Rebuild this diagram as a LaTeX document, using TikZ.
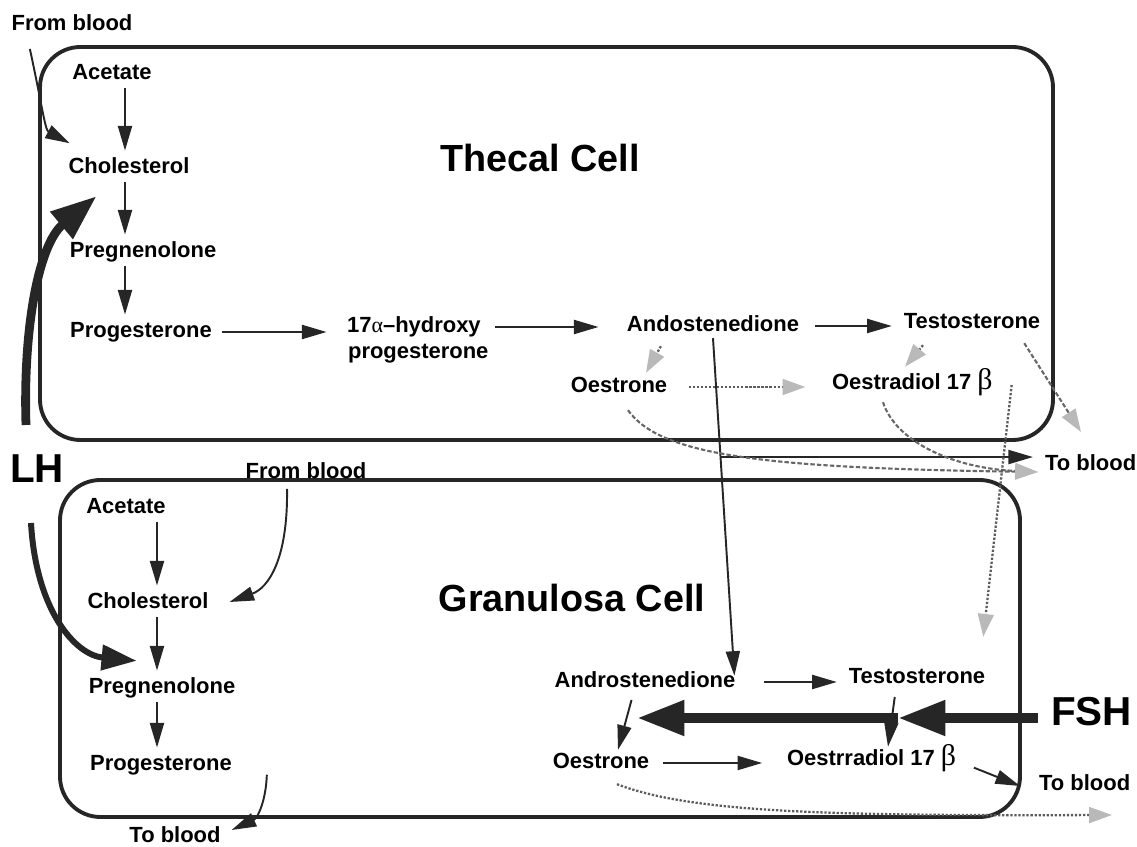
\documentclass[tikz,border=0pt]{standalone}
\usepackage{fontspec}
\setmainfont{Liberation Sans}
\newfontfamily\greekserif{Liberation Serif}
\usetikzlibrary{arrows.meta,calc}

\colorlet{ink}{black!85}
\newcommand\chemfont{\fontsize{12.5}{14}\selectfont\bfseries}
\newcommand\titlefont{\fontsize{21.5}{24}\selectfont\bfseries}
\newcommand\hormfont{\fontsize{23}{26}\selectfont\bfseries}
\newcommand\bigbeta{{\greekserif\mdseries\fontsize{17}{17}\selectfont β}}

\begin{document}
\begin{tikzpicture}[x=0.02cm,y=-0.02cm,
  chem/.style={font=\chemfont,inner sep=1pt,text height=9pt,text depth=2.5pt},
  celltitle/.style={font=\titlefont,inner sep=1pt},
  hormone/.style={font=\hormfont,inner sep=1pt},
  cellwall/.style={draw=ink,line width=2.2pt,rounded corners=23pt},
  flow/.style={draw=ink,line width=1.1pt,-{Triangle[length=14pt,width=8pt]},shorten <=1pt,shorten >=3pt},
  diffuse/.style={draw=ink!75,line width=1.3pt,densely dotted,-{Triangle[length=13pt,width=9pt,color=gray!55]}},
  leak/.style={draw=ink!70,line width=1.2pt,dash pattern=on 2.5pt off 1.2pt,-{Triangle[length=13pt,width=9pt,color=gray!55]}},
  lhflow/.style={draw=ink,line width=5pt,-{Triangle[length=26pt,width=19pt]}},
  lhthin/.style={draw=ink,line width=3.4pt,-{Triangle[length=20pt,width=14pt]}},
  fshflow/.style={draw=ink,line width=5.7pt,-{Triangle[length=27pt,width=19pt]}}]
  \useasboundingbox (0,0) rectangle (1137,847);

  % thecal cell
  \draw[cellwall] (40,47) rectangle (1053,440);
  \node[celltitle] (thTitle) at (540,158) {Thecal Cell};
  \node[chem] (thFrom) at (72,25) {From blood};
  \node[chem] (thAce) at (112,74) {Acetate};
  \node[chem] (thChol) at (129,168) {Cholesterol};
  \node[chem] (thPreg) at (143,252) {Pregnenolone};
  \node[chem] (thProg) at (141,332) {Progesterone};
  \node[chem,anchor=west] (thHyd) at (345,327) {17{\greekserif\mdseries α}–hydroxy};
  \node[chem,anchor=west] (thHydP) at (346,353) {progesterone};
  \node[chem] (thAnd) at (713,326) {Andostenedione};
  \node[chem] (thTest) at (972,323) {Testosterone};
  \node[chem] (thOes) at (619,387) {Oestrone};
  \node[chem,anchor=west] (thOest) at (830,384) {Oestradiol 17 \bigbeta};
  \node[chem,anchor=west] (thBlood) at (1043,465) {To blood};
  \node[hormone] (lh) at (37,469) {LH};

  % granulosa cell
  \draw[cellwall] (60,480) rectangle (1020,817);
  \node[celltitle] (grTitle) at (572,598) {Granulosa Cell};
  \node[chem] (grFrom) at (306,473) {From blood};
  \node[chem] (grAce) at (126,508) {Acetate};
  \node[chem] (grChol) at (148,603) {Cholesterol};
  \node[chem] (grPreg) at (162,688) {Pregnenolone};
  \node[chem] (grProg) at (161,765) {Progesterone};
  \node[chem] (grBloodOut) at (175,837) {To blood};
  \node[chem] (grAndro) at (645,682) {Androstenedione};
  \node[chem] (grTest) at (917,678) {Testosterone};
  \node[chem] (grOes) at (601,763) {Oestrone};
  \node[chem,anchor=west] (grOest) at (785,760) {Oestrradiol 17 \bigbeta};
  \node[chem,anchor=west] (grBlood) at (1037,785) {To blood};
  \node[hormone,anchor=east] (fsh) at (1134,712) {FSH};

  \coordinate (thcol) at (125,0);
  \coordinate (grcol) at (157,0);
  \coordinate (thTestOut) at (1081,432);
  \coordinate (grOut) at (1112,815);
  \coordinate (fshMid) at (898,718);
  \coordinate (fshTip) at (637,718);

  % thecal pathway
  \draw[flow] ($(thFrom.south west)+(20,10)$) .. controls (42,105) and (45,130) .. ($(thChol.north west)+(8,-10)$);
  \draw[lhflow] ($(lh.north)+(-11,-28)$) .. controls (23,330) and (38,245) .. ($(thChol.south west)+(30,16)$);
  \draw[flow] (thAce.south -| thcol) -- (thChol.north -| thcol);
  \draw[flow] (thChol.south -| thcol) -- (thPreg.north -| thcol);
  \draw[flow] (thPreg.south -| thcol) -- (thProg.north -| thcol);
  \draw[flow,shorten <=4.5pt,shorten >=10.5pt] (thProg.east) -- (thProg.east -| thHyd.west);
  \draw[flow,shorten <=7pt,shorten >=15pt] (thHyd.east) -- (thHyd.east -| thAnd.west);
  \draw[flow,shorten <=7.7pt,shorten >=5.7pt] (thAnd.east) -- (thAnd.east -| thTest.west);
  \draw[diffuse] ($(thAnd.south west)+(36,8)$) -- ($(thOes.north)+(27,-2)$);
  \draw[diffuse] ($(thTest.south)+(-49,10)$) -- ($(thOest.north west)+(75,-5)$);
  \draw[diffuse,shorten <=11pt,shorten >=14pt] (thOes.east) -- (thOes.east -| thOest.west);
  \draw[leak] ($(thTest.south east)+(-18,8)$) -- (thTestOut);
  \draw[flow,shorten <=0pt,shorten >=0pt] (thAnd.south) -- ($(grAndro.north east)+(-3,6)$) coordinate[pos=0.352] (branch);
  \draw[flow,shorten <=0pt,shorten >=5.7pt] (branch) -- (branch -| thBlood.west);
  \draw[leak] ($(thOes.south)+(9,11)$) .. controls (660,455) and (760,468) .. ($(thBlood.west)+(-5,7)$);
  \draw[leak] ($(thOest.south west)+(53,6)$) .. controls (895,440) and (950,468) .. ($(thBlood.west)+(-5,7)$);
  \draw[diffuse] ($(thOest.east)+(17,1)$) -- ($(grTest.north east)+(-4,-29)$);

  % granulosa pathway
  \draw[flow,shorten >=0pt] ($(grFrom.south)+(-19,2)$) .. controls (288,560) and (268,588) .. ($(grChol.east)+(19,-1)$);
  \draw[lhthin] ($(lh.south)+(-6,38)$) .. controls (36,610) and (75,655) .. ($(grPreg.north west)+(50,-15)$);
  \draw[flow] (grAce.south -| grcol) -- (grChol.north -| grcol);
  \draw[flow] (grChol.south -| grcol) -- (grPreg.north -| grcol);
  \draw[flow] (grPreg.south -| grcol) -- (grProg.north -| grcol);
  \draw[flow,shorten >=0pt] ($(grProg.east)+(33,8)$) .. controls (266,800) and (258,818) .. ($(grBloodOut.east)+(9,-7)$);
  \draw[flow,shorten <=15pt,shorten >=5.7pt] (grAndro.east) -- (grAndro.east -| grTest.west);
  \draw[flow,shorten >=0pt] ($(grAndro.south)+(-13,4)$) -- ($(grOes.north)+(17,-1)$);
  \draw[flow,shorten >=0pt] ($(grTest.south)+(-22,5)$) -- ($(grOest.north west)+(103,-1)$);
  \draw[flow,shorten <=6.5pt,shorten >=13pt] (grOes.east) -- (grOes.east -| grOest.west);
  \draw[flow,shorten >=0pt] ($(grOest.east)+(14,7)$) -- ($(grBlood.west)+(-17,1)$);
  \draw[diffuse] ($(grOes.south)+(16,9)$) .. controls (690,812) and (820,816) .. (grOut);
  \draw[fshflow] ($(fsh.west)+(-11,6)$) -- (fshMid);
  \draw[fshflow] (fshMid) -- (fshTip);
\end{tikzpicture}
\end{document}
